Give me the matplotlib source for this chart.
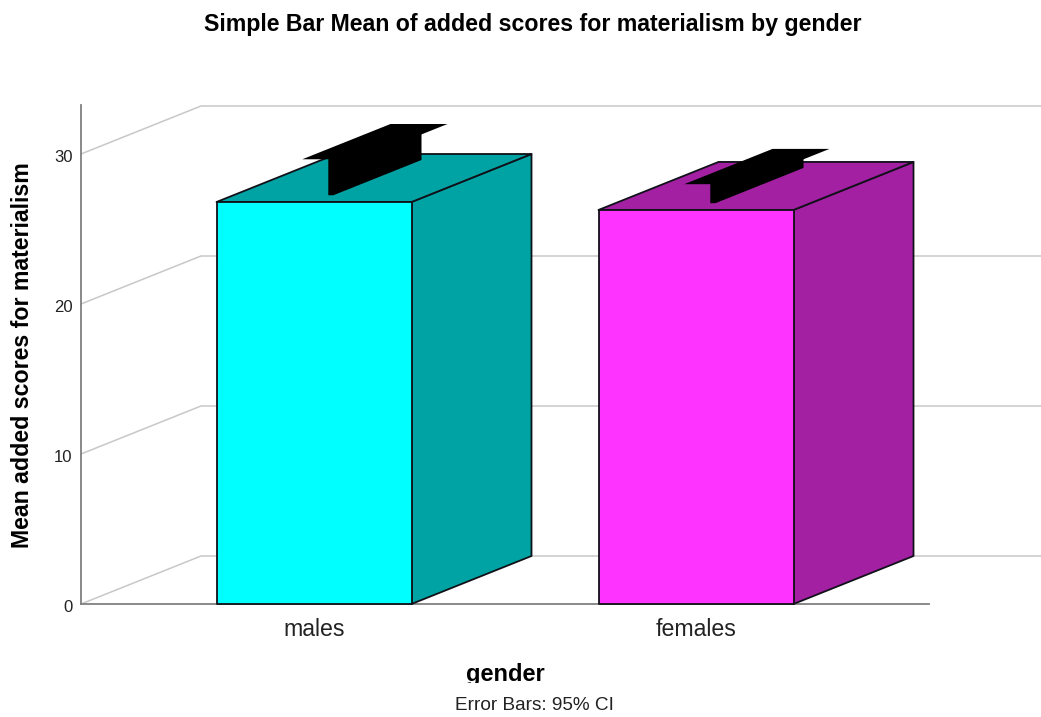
import matplotlib
matplotlib.use('Agg')
import matplotlib.pyplot as plt
from matplotlib.patches import Polygon
from matplotlib.transforms import Bbox, ScaledTranslation

plt.rcParams['font.family'] = ['Liberation Sans', 'DejaVu Sans']

# data
categories = ['males', 'females']
means = [26.8, 26.27]
ci_upper = [29.2, 27.54]
y_ticks = [0, 10, 20, 30]

front_colors = ['#00FFFF', '#FF33FF']
side_colors = ['#00A3A3', '#A320A3']

W, H = 1041, 717
fig = plt.figure(figsize=(W / 100, H / 100), dpi=100, facecolor='white')

# axes box in pixels
left, right, top, bottom = 81, 929, 105, 604
ax = fig.add_axes([left / W, 1 - bottom / H, (right - left) / W, (bottom - top) / H])
ax.set_facecolor('none')

# scales: 382 px per category, 15 px per unit
x_scale, y_scale = 382, 15
ax.set_xlim((left - 314) / x_scale, (right - 314) / x_scale)
ax.set_ylim(0, (bottom - top) / y_scale)

# fake 3D depth
depth_x = 120 / x_scale
depth_y = 48 / y_scale
bar_half = 97.5 / x_scale
cap_half = 28.5 / x_scale
stem_half = 2.5 / x_scale
d1, d2 = 0.14, 0.875


def proj(x, y, d):
    return (x + d * depth_x, y + d * depth_y)


def add_poly(pts, fc, ec='none', lw=0, z=3):
    ax.add_patch(Polygon(pts, closed=True, facecolor=fc, edgecolor=ec, linewidth=lw,
                         joinstyle='round', clip_on=False, zorder=z))


# gridlines run along the floor/wall, out to the figure edge
x0 = ax.get_xlim()[0]
x_end = (W - 314) / x_scale
for t in y_ticks:
    ax.plot([x0, x0 + depth_x, x_end], [t, t + depth_y, t + depth_y], color='#C8C8C8',
            lw=1.1, clip_on=False, zorder=1, solid_joinstyle='miter')

edge = '#101018'
for i, (m, c) in enumerate(zip(means, ci_upper)):
    l, r = i - bar_half, i + bar_half
    # side
    add_poly([proj(r, 0, 0), proj(r, 0, 1), proj(r, m, 1), proj(r, m, 0)], side_colors[i], edge, 1.3)
    # top
    add_poly([proj(l, m, 0), proj(r, m, 0), proj(r, m, 1), proj(l, m, 1)], side_colors[i], edge, 1.3)
    # front
    add_poly([(l, 0), (r, 0), (r, m), (l, m)], front_colors[i], edge, 1.3, z=4)
    # error bar, upper half only shows above the bar
    add_poly([proj(i - stem_half, m, d1), proj(i + stem_half, m, d1), proj(i + stem_half, m, d2),
              proj(i + stem_half, c, d2), proj(i - stem_half, c, d1)], 'black', z=5)
    add_poly([proj(i - cap_half, c, d1), proj(i + cap_half, c, d1),
              proj(i + cap_half, c, d2), proj(i - cap_half, c, d2)], 'black', z=5)

for s in ['top', 'right']:
    ax.spines[s].set_visible(False)
for s in ['left', 'bottom']:
    ax.spines[s].set_color('#808080')
    ax.spines[s].set_linewidth(1.3)
    ax.spines[s].set_zorder(2)

ax.set_xticks(range(len(categories)))
ax.set_xticklabels(categories, fontsize=16.7, color='#222222')
ax.set_yticks(y_ticks)
ax.tick_params(axis='x', length=0, pad=10)
ax.tick_params(axis='y', length=0, pad=6, labelsize=12, labelcolor='#222222')
# y labels sit slightly under their gridline start
down = ScaledTranslation(0, -2.5 / 100, fig.dpi_scale_trans)
for lab in ax.get_yticklabels():
    lab.set_transform(lab.get_transform() + down)

fig.text(533 / W, 1 - 24 / H, 'Simple Bar Mean of added scores for materialism by gender',
         fontsize=16.7, fontweight='bold', ha='center', va='center')
fig.text(22.5 / W, 1 - 355 / H, 'Mean added scores for materialism', rotation=90,
         fontsize=16.7, fontweight='bold', ha='center', va='center')
# the descender of the x title is cut off in the original
xlab = fig.text(505.5 / W, 1 - 675 / H, 'gender', fontsize=17, fontweight='bold', ha='center', va='center')
xlab.set_clip_box(Bbox([[0, H - 683], [W, H]]))
xlab.set_clip_on(True)
fig.text(534 / W, 1 - 705 / H, 'Error Bars: 95% CI', fontsize=13.7, color='#222222', ha='center', va='center')

fig.savefig('out.png', dpi=100)
